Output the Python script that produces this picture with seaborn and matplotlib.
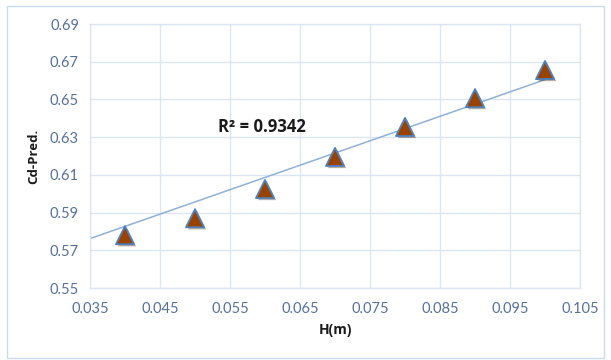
import numpy as np
import pandas as pd
import seaborn as sns
import matplotlib.pyplot as plt
import matplotlib.patheffects as pe
from matplotlib.patches import Rectangle

# data
h_m = [0.04, 0.05, 0.06, 0.07, 0.08, 0.09, 0.10]
cd_pred = [0.578, 0.587, 0.6025, 0.6195, 0.6354, 0.6507, 0.6656]
# trendline as drawn in the reference (linear, forward from 0.035)
trend_h = [0.035, 0.10]
trend_cd = [0.5762, 0.6605]
r2_label = "R² = 0.9342"
x_ticks = [0.035, 0.045, 0.055, 0.065, 0.075, 0.085, 0.095, 0.105]
y_ticks = [0.55, 0.57, 0.59, 0.61, 0.63, 0.65, 0.67, 0.69]

df = pd.DataFrame({"H(m)": h_m, "Cd-Pred.": cd_pred})
trend = pd.DataFrame({"H(m)": trend_h, "Cd-Pred.": trend_cd})

sns.set_style("white")
plt.rcParams['font.family'] = ['Lato', 'DejaVu Sans']

grid_col = "#dce6f2"
tick_col = "#56709a"
bold_font = ['Open Sans', 'DejaVu Sans']

fig = plt.figure(figsize=(6.11, 3.6), dpi=100)
ax = fig.add_axes([0.1473, 0.2, 0.8020, 0.7333])

# outer chart border
fig.patches.append(Rectangle((7/611, 2/360), 597/611, 352/360, transform=fig.transFigure,
                             fill=False, edgecolor="#c9daf0", linewidth=1.0))

sns.lineplot(data=trend, x="H(m)", y="Cd-Pred.", ax=ax, color="#8fb0d9", linewidth=1.1, zorder=2)
sns.scatterplot(data=df, x="H(m)", y="Cd-Pred.", ax=ax, marker="^", s=170,
                color="#9a4200", edgecolor="#4f81bd", linewidth=1.3, zorder=3,
                path_effects=[pe.SimplePatchShadow(offset=(1.5, -1.5), alpha=0.35), pe.Normal()])

ax.text(0.0533, 0.6354, r2_label, fontsize=12, fontweight="bold", color="#1a1a1a",
        va="center", ha="left", family=bold_font)

ax.set_xlim(0.035, 0.105)
ax.set_ylim(0.55, 0.69)
ax.set_xticks(x_ticks)
ax.set_yticks(y_ticks)
ax.set_xticklabels([f"{v:.3f}" for v in x_ticks])
ax.set_yticklabels([f"{v:.2f}" for v in y_ticks])
ax.tick_params(axis="both", colors=tick_col, labelsize=10.5, length=0)
ax.tick_params(axis="x", pad=10)
ax.tick_params(axis="y", pad=8)
ax.grid(True, color=grid_col, linewidth=1.0)
ax.set_axisbelow(True)
for s in ax.spines.values():
    s.set_color(grid_col)
    s.set_linewidth(1.0)

ax.set_xlabel("H(m)", fontsize=10, fontweight="bold", color="#1a1a1a", labelpad=5, family=bold_font)
ax.set_ylabel("Cd-Pred.", fontsize=9.5, fontweight="bold", color="#1a1a1a", labelpad=7, family=bold_font)

plt.savefig("out.png", dpi=100)
